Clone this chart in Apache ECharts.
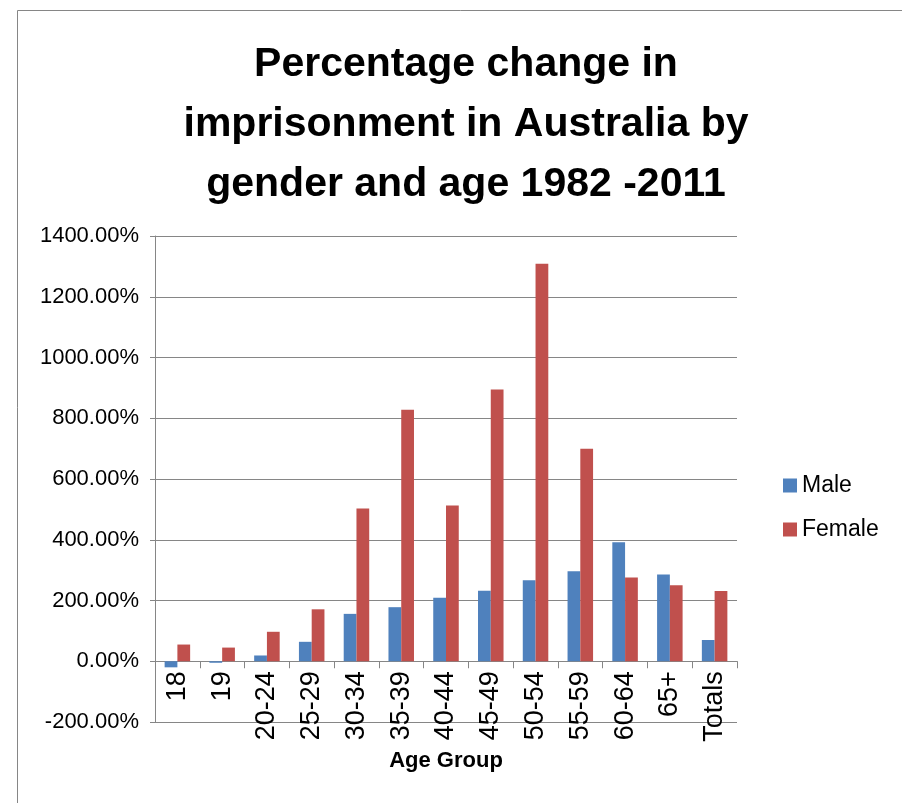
<!DOCTYPE html>
<html>
<head>
<meta charset="utf-8">
<script src="https://cdn.jsdelivr.net/npm/echarts@6/dist/echarts.min.js"></script>
<style>
  html, body { margin: 0; padding: 0; background: #fff; }
  #main { width: 902px; height: 803px; }
</style>
</head>
<body>
<div id="main"></div>
<script>
// 数据
const ageGroups = ["18", "19", "20-24", "25-29", "30-34", "35-39", "40-44", "45-49", "50-54", "55-59", "60-64", "65+", "Totals"];
const maleValues = [-20, -5, 19, 64, 156, 178, 209, 232, 267, 296, 392, 286, 70];
const femaleValues = [55, 45, 97, 171, 503, 828, 513, 895, 1309, 700, 276, 250, 231];
const yTicks = { min: -200, max: 1400, interval: 200 };

const font = "'Liberation Sans', Arial, sans-serif";
const gray = "#868686";

// 网格位置
const gridTop = 236, gridBottom = 81, chartHeight = 803;
const plotH = chartHeight - gridTop - gridBottom;
// 类目轴放在0的位置（标签跟着一起移动）
const zeroOffset = -plotH * (0 - yTicks.min) / (yTicks.max - yTicks.min);

let chart = echarts.init(document.getElementById("main"));
chart.setOption({
  animation: false,
  textStyle: { fontFamily: font },
  title: {
    text: "Percentage change in\nimprisonment in Australia by\ngender and age 1982 -2011",
    left: 461,
    top: 30,
    textAlign: "center",
    textStyle: { fontSize: 41, fontWeight: "bold", color: "#000", lineHeight: 60, fontFamily: font },
  },
  graphic: [
    {
      type: "rect",
      shape: { x: 17.5, y: 10.5, width: 1000, height: 1000 },
      style: { fill: "none", stroke: gray, lineWidth: 1 },
      silent: true,
    },
  ],
  legend: {
    orient: "vertical",
    left: 778,
    top: 469,
    itemWidth: 14,
    itemHeight: 14,
    itemGap: 21,
    icon: "rect",
    data: ["Male", "Female"],
    textStyle: { fontSize: 23, color: "#000", fontFamily: font },
  },
  grid: { left: 155, right: 165, top: gridTop, bottom: gridBottom, containLabel: false, outerBoundsMode: "none" },
  xAxis: {
    type: "category",
    data: ageGroups,
    offset: zeroOffset,
    name: "Age Group",
    nameLocation: "middle",
    nameGap: 88,
    nameTextStyle: { fontSize: 22, fontWeight: "bold", color: "#000", fontFamily: font },
    axisLine: { onZero: false, lineStyle: { color: gray, width: 1 } },
    axisTick: { show: true, length: 7, lineStyle: { color: gray } },
    axisLabel: { rotate: 90, interval: 0, fontSize: 27, color: "#000", margin: 10, fontFamily: font },
  },
  yAxis: {
    type: "value",
    min: yTicks.min,
    max: yTicks.max,
    interval: yTicks.interval,
    axisLine: { show: true, lineStyle: { color: gray, width: 1 } },
    axisTick: { show: true, length: 5, lineStyle: { color: gray } },
    splitLine: { show: true, lineStyle: { color: gray, width: 1 } },
    axisLabel: {
      fontSize: 22,
      color: "#000",
      margin: 16,
      fontFamily: font,
      formatter: (v) => v.toFixed(2) + "%",
    },
  },
  series: [
    {
      name: "Male",
      type: "bar",
      data: maleValues,
      barGap: 0,
      barCategoryGap: "43%",
      itemStyle: { color: "#4F81BD" },
    },
    {
      name: "Female",
      type: "bar",
      data: femaleValues,
      barCategoryGap: "43%",
      itemStyle: { color: "#C0504D" },
    },
  ],
});
</script>
</body>
</html>
